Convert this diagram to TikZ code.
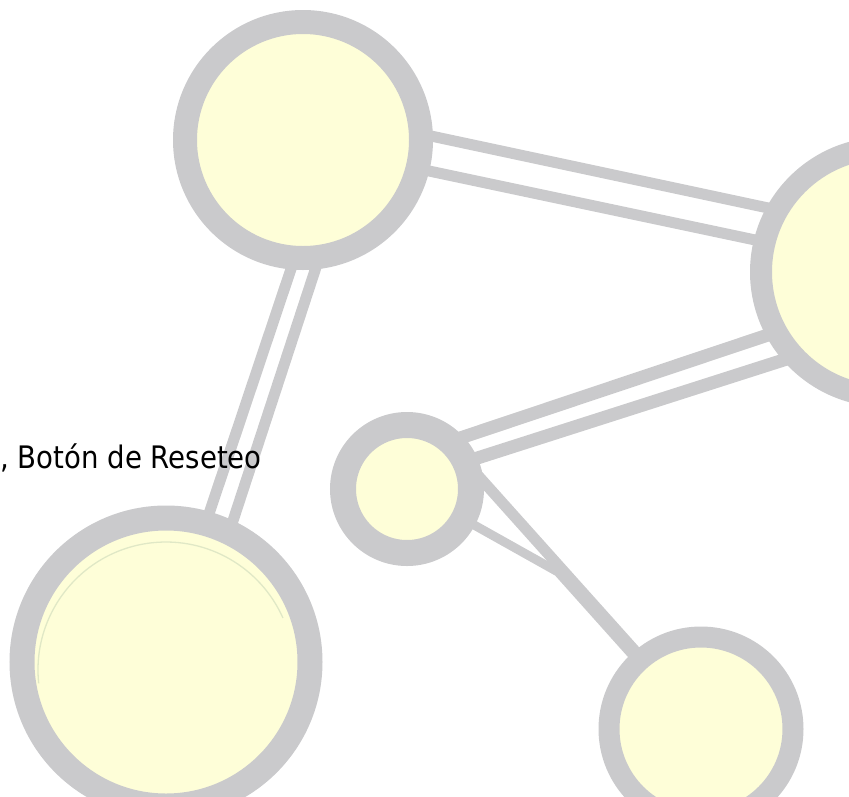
\documentclass[tikz,border=0pt]{standalone}
\usepackage{fontspec}
\newfontfamily\labelfont[FakeStretch=0.89]{DejaVu Sans}
\usetikzlibrary{backgrounds}
\definecolor{ringgray}{HTML}{CACACC}
\definecolor{fillyellow}{HTML}{FEFED8}
\definecolor{greenline}{HTML}{E0E8C6}
\tikzset{
  ball/.style={circle, draw=ringgray, fill=fillyellow, outer sep=0pt, inner sep=0pt},
  link/.style={draw=ringgray, line width=11pt},
  sketch/.style={draw=greenline, line width=1.3pt},
  labeltext/.style={anchor=base west, inner sep=0pt, text=black, font=\labelfont\fontsize{31}{36}\selectfont}
}
\begin{document}
\begin{tikzpicture}[x=1pt,y=-1pt]
\useasboundingbox (0,0) rectangle (849,796);
\clip (0,0) rectangle (849,796);
% circles
\node[ball, minimum size=236pt, line width=24pt] (T)  at (303,140) {};
\node[ball, minimum size=248pt, line width=22pt] (R)  at (885,272) {};
\node[ball, minimum size=128pt, line width=26pt] (S)  at (407,489) {};
\node[ball, minimum size=288pt, line width=25pt] (BL) at (166,662) {};
\node[ball, minimum size=184pt, line width=21pt] (BR) at (701,729) {};
\coordinate (m) at (558,572);
\coordinate (blc) at (166,670);
% faint inner sketch arc
\draw[sketch] ([shift={(186:128pt)}]blc) arc[start angle=186, end angle=24, radius=128pt];
% connectors
\begin{scope}[on background layer]
\draw[link] (T.3.7) -- (R.150.3);
\draw[link] (T.-14) -- (R.166.7);
\draw[link] (T.-94.7) -- (BL.74.8);
\draw[link] (T.-82.6) -- (BL.64.4);
\draw[link, line width=13pt] (S.48.7) -- (R.-151.3);
\draw[link, line width=13pt] (S.25) -- (R.-137.2);
\draw[link] (S.27.1) -- (BR.130.4);
\draw[link, line width=9pt] (S.-28.4) -- (m) -- (BR.133);
\end{scope}
% label
\node[labeltext] (lbl) at (0,468) {, Botón de Reseteo};
\end{tikzpicture}
\end{document}
